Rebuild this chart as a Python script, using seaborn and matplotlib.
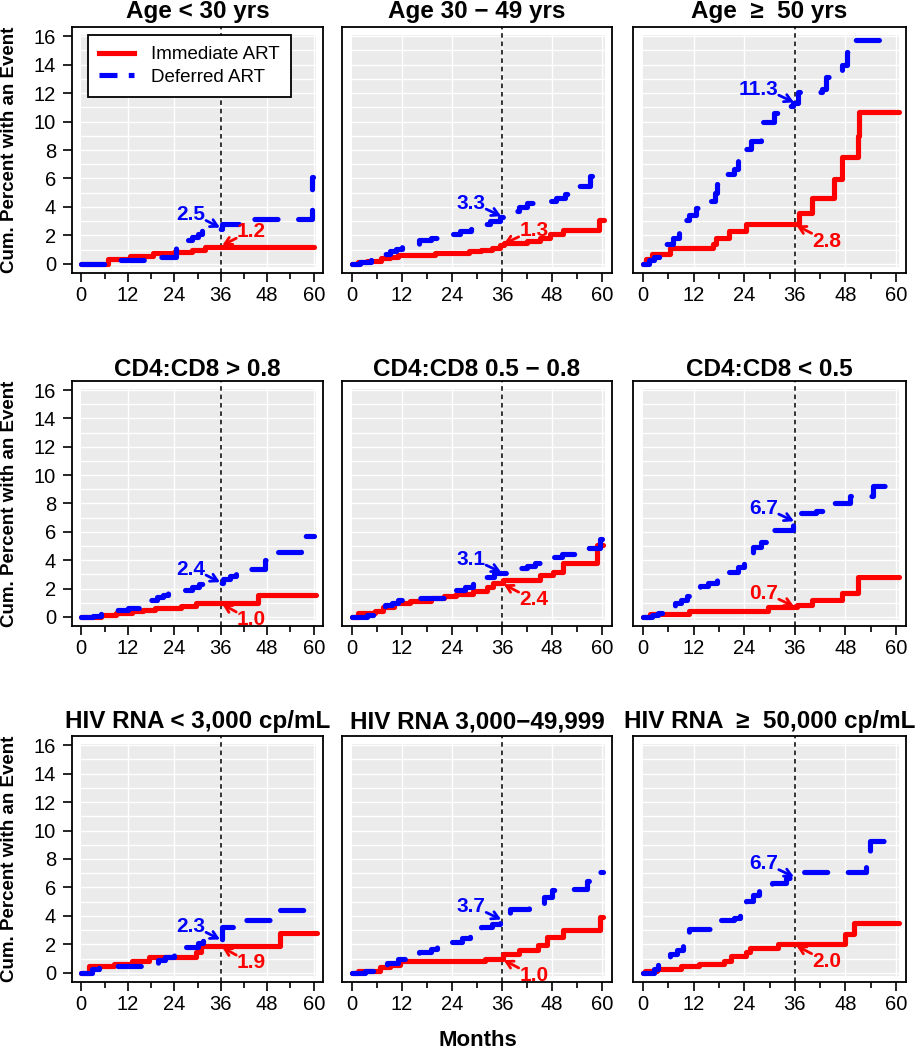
import matplotlib
matplotlib.use("Agg")
import matplotlib.pyplot as plt
from matplotlib.lines import Line2D
from matplotlib.patches import Rectangle
import pandas as pd
import seaborn as sns

# panel titles (row by row)
titles = ["Age < 30 yrs", "Age 30 \u2212 49 yrs", "Age  \u2265  50 yrs",
          "CD4:CD8 > 0.8", "CD4:CD8 0.5 \u2212 0.8", "CD4:CD8 < 0.5",
          "HIV RNA < 3,000 cp/mL", "HIV RNA 3,000\u221249,999", "HIV RNA  \u2265  50,000 cp/mL"]

# step curves: month of each step, cum. percent after it
p1_imm_t = [0, 6.8, 12.5, 18.5, 24, 28.5, 32]
p1_imm_v = [0, 0.35, 0.55, 0.75, 0.85, 1.0, 1.2]
p1_def_t = [0, 6, 20, 24.4, 27, 28.5, 30, 31.2, 36.4, 41, 59.5]
p1_def_v = [0, 0.25, 0.45, 1.2, 1.7, 1.9, 2.1, 2.45, 2.8, 3.15, 6.1]

p2_imm_t = [0, 1.5, 3.5, 7, 9, 11, 20, 28, 31, 33.5, 35.5, 36.5, 42, 45, 47.5, 50.7, 59.2]
p2_imm_v = [0, 0.1, 0.2, 0.4, 0.5, 0.6, 0.75, 0.9, 1.0, 1.15, 1.3, 1.5, 1.6, 1.8, 2.1, 2.4, 3.1]
p2_def_t = [0, 2, 4.5, 7.5, 9, 10.5, 12, 16, 19, 24, 26, 28.5, 31, 33, 35.5, 38, 40, 42, 47, 49, 51, 54, 57]
p2_def_v = [0, 0.1, 0.3, 0.7, 0.9, 1.05, 1.3, 1.65, 1.8, 2.1, 2.3, 2.45, 2.8, 3.0, 3.3, 3.7, 4.0, 4.3,
            4.45, 4.6, 4.9, 5.5, 6.2]

p3_imm_t = [0, 0.8, 2, 6.5, 16.5, 17.3, 20.5, 24.5, 37, 40, 45.3, 47.3, 50.9, 51.3]
p3_imm_v = [0, 0.35, 0.7, 1.1, 1.4, 1.8, 2.3, 2.8, 3.6, 4.6, 5.95, 7.5, 9.0, 10.65]
p3_def_t = [0, 1.5, 2.5, 4, 5.5, 7, 8.5, 9.7, 11, 12.5, 16, 17, 17.5, 20, 21.5, 22.5, 24.5, 25.5, 28, 31,
            34.5, 35.5, 36.8, 42.5, 43.3, 47.3, 48.3, 48.9]
p3_def_v = [0, 0.3, 0.5, 0.7, 1.4, 1.8, 2.2, 3.1, 3.4, 3.9, 4.4, 5.0, 5.6, 6.3, 6.7, 7.2, 8.1, 8.6, 10.0,
            10.6, 11.1, 11.3, 12.1, 12.3, 13.1, 14.0, 14.9, 15.75]

p4_imm_t = [0, 5, 9, 13, 16, 19, 25.7, 29.6, 45.6]
p4_imm_v = [0, 0.15, 0.3, 0.4, 0.5, 0.6, 0.8, 1.0, 1.55]
p4_def_t = [0, 3, 5, 9, 12, 15, 18, 19.5, 21, 22.5, 26, 28.5, 30.5, 33, 36.5, 38.5, 40, 43, 47.5, 49.5, 56.8]
p4_def_v = [0, 0.1, 0.25, 0.5, 0.6, 0.73, 1.2, 1.4, 1.55, 1.7, 1.9, 2.1, 2.35, 2.4, 2.7, 2.9, 3.05, 3.4,
            4.0, 4.55, 5.7]

p5_imm_t = [0, 1.5, 5.5, 7.5, 10, 14, 19, 22, 25, 29, 32.3, 33.8, 36.3, 45, 48.3, 50.7, 58.8]
p5_imm_v = [0, 0.25, 0.45, 0.7, 0.95, 1.1, 1.35, 1.5, 1.65, 1.8, 2.1, 2.4, 2.6, 2.95, 3.2, 3.8, 5.05]
p5_def_t = [0, 3.5, 6.5, 8, 9.5, 11, 16, 22.5, 25, 27, 29, 32, 34, 40, 42, 44, 48, 50.5, 55, 59.5]
p5_def_v = [0, 0.15, 0.6, 0.85, 1.0, 1.2, 1.3, 1.7, 1.9, 2.1, 2.4, 2.85, 3.1, 3.45, 3.6, 3.8, 4.25, 4.45,
            4.85, 5.5]

p6_imm_t = [0, 1.7, 10.9, 29.7, 36.5, 40, 47.3, 50.9]
p6_imm_v = [0, 0.2, 0.45, 0.7, 0.85, 1.2, 1.7, 2.85]
p6_def_t = [0, 2, 3.5, 5, 7.5, 9, 10.5, 13.5, 15.5, 17.5, 20.5, 22.5, 24, 26, 28, 30.5, 35.5, 36.8, 41, 45,
            49, 54.5]
p6_def_v = [0, 0.15, 0.3, 0.45, 1.0, 1.2, 1.5, 2.2, 2.4, 2.65, 3.2, 3.55, 3.9, 4.9, 5.3, 6.1, 6.65, 7.3,
            7.5, 8.0, 8.5, 9.2]

p7_imm_t = [0, 1.9, 8.4, 13.2, 17.5, 29.6, 30.8, 51.2]
p7_imm_v = [0, 0.45, 0.65, 0.85, 1.1, 1.5, 1.9, 2.8]
p7_def_t = [0, 2.8, 4.5, 19.7, 21.5, 24, 27, 30, 31.5, 36.3, 41.5, 50.5]
p7_def_v = [0, 0.25, 0.45, 0.9, 1.1, 1.4, 1.85, 2.1, 2.3, 3.2, 3.7, 4.4]

p8_imm_t = [0, 1.5, 6.7, 9, 11.5, 32, 36.2, 40, 44.7, 46.7, 50.7, 59.5]
p8_imm_v = [0, 0.15, 0.4, 0.55, 0.8, 1.0, 1.35, 1.6, 1.95, 2.55, 3.0, 3.9]
p8_def_t = [0, 3, 6.5, 8.5, 11, 13, 16, 19, 20.3, 24, 26.5, 28.3, 31, 33.5, 35.5, 38, 42.5, 46, 48, 52.3,
            56.5, 59]
p8_def_v = [0, 0.1, 0.4, 0.7, 0.95, 1.15, 1.5, 1.7, 1.85, 2.2, 2.45, 2.8, 3.25, 3.45, 3.7, 4.5, 4.6, 5.3,
            5.85, 5.9, 6.45, 7.1]

p9_imm_t = [0, 0.5, 3.3, 8.9, 13.3, 19.3, 20.9, 24.5, 25.3, 32, 48, 50.1]
p9_imm_v = [0, 0.1, 0.25, 0.45, 0.65, 0.8, 1.2, 1.45, 1.75, 2.0, 2.7, 3.5]
p9_def_t = [0, 2.5, 3.5, 6.5, 8, 9.5, 11, 16.5, 18.5, 21.5, 23, 24.5, 26, 27.5, 30.5, 34, 36.5, 53, 53.8]
p9_def_v = [0, 0.25, 0.6, 1.3, 1.6, 2.0, 3.05, 3.2, 3.7, 3.85, 4.1, 5.05, 5.5, 5.8, 6.3, 6.7, 7.1, 8.5, 9.25]

imm_t = [p1_imm_t, p2_imm_t, p3_imm_t, p4_imm_t, p5_imm_t, p6_imm_t, p7_imm_t, p8_imm_t, p9_imm_t]
imm_v = [p1_imm_v, p2_imm_v, p3_imm_v, p4_imm_v, p5_imm_v, p6_imm_v, p7_imm_v, p8_imm_v, p9_imm_v]
def_t = [p1_def_t, p2_def_t, p3_def_t, p4_def_t, p5_def_t, p6_def_t, p7_def_t, p8_def_t, p9_def_t]
def_v = [p1_def_v, p2_def_v, p3_def_v, p4_def_v, p5_def_v, p6_def_v, p7_def_v, p8_def_v, p9_def_v]

# last follow-up month of each curve
imm_end = [60, 60.5, 60.8, 60.5, 60.2, 60.8, 60.8, 60.3, 60.8]
def_end = [59.8, 57.5, 60.8, 60.2, 60.1, 57.3, 58.2, 60.3, 57.7]

# 36-month estimates shown with arrows
imm_at36 = [1.2, 1.3, 2.8, 1.0, 2.4, 0.7, 1.9, 1.0, 2.0]
def_at36 = [2.5, 3.3, 11.3, 2.4, 3.1, 6.7, 2.3, 3.7, 6.7]
imm_side = ["ur", "ur", "lr", "lr", "lr", "ul", "lr", "lr", "lr"]

plt.rcParams["font.family"] = ["Liberation Sans", "DejaVu Sans"]

W, H = 918, 1050
fig = plt.figure(figsize=(W / 100, H / 100), dpi=100)

col_px = [(72, 323), (342, 612), (633, 906)]
row_px = [(27, 273), (381, 626), (736, 982)]
title_pad = [6.5, 2, 5.5]

RED, BLUE = "#FF0000", "#0000FF"
LW = 3.7
DASH = (0, (4.5, 4))


def step_line(ax, t, v, end, color, ls):
    df = pd.DataFrame({"month": list(t) + [end], "pct": list(v) + [v[-1]]})
    sns.lineplot(data=df, x="month", y="pct", ax=ax, color=color, lw=LW, linestyle=ls,
                 drawstyle="steps-post", estimator=None, sort=False, zorder=3)
    ln = ax.lines[-1]
    ln.set_dash_capstyle("round")
    ln.set_solid_capstyle("round")
    ln.set_dash_joinstyle("round")
    ln.set_solid_joinstyle("round")


def label36(ax, val, side, color):
    if side == "ul":
        txt, tail, head, ha = (32.0, val + 0.95), (32.2, val + 0.55), (35.8, val + 0.05), "right"
    elif side == "ur":
        txt, tail, head, ha = (40.2, val + 1.05), (40.0, val + 0.6), (36.4, val + 0.1), "left"
    else:
        txt, tail, head, ha = (40.2, val - 1.2), (40.0, val - 0.65), (36.4, val - 0.1), "left"
    ax.annotate("", xy=head, xytext=tail,
                arrowprops=dict(arrowstyle="->,head_length=0.5,head_width=0.28", color=color,
                                lw=2.0, shrinkA=0, shrinkB=0), zorder=4)
    ax.text(txt[0], txt[1], f"{val:.1f}", color=color, fontsize=15, fontweight="bold",
            ha=ha, va="center", clip_on=True, zorder=4)


for i in range(9):
    r, c = divmod(i, 3)
    x0, x1 = col_px[c]
    y0, y1 = row_px[r]
    ax = fig.add_axes([x0 / W, 1 - y1 / H, (x1 - x0) / W, (y1 - y0) / H])
    ax.set_xlim(-2.4, 62.4)
    ax.set_ylim(-0.64, 16.64)

    ax.add_patch(Rectangle((0, -0.25), 60.7, 16.35, facecolor="#EBEBEB", edgecolor="none", zorder=0))
    for y in range(17):
        ax.plot([0, 60.7], [y, y], color="white", lw=1.0, zorder=1)
    for x in range(12, 61, 12):
        ax.plot([x, x], [-0.25, 16.1], color="white", lw=1.0, zorder=1)
    ax.axvline(36, color="black", lw=1.1, linestyle=(0, (3, 2.5)), zorder=2)

    step_line(ax, imm_t[i], imm_v[i], imm_end[i], RED, "-")
    step_line(ax, def_t[i], def_v[i], def_end[i], BLUE, DASH)

    label36(ax, def_at36[i], "ul", BLUE)
    label36(ax, imm_at36[i], imm_side[i], RED)

    ax.set_xlabel("")
    ax.set_ylabel("")
    ax.set_xticks(range(0, 61, 12))
    ax.set_xticks(range(6, 61, 12), minor=True)
    if c == 0:
        ax.set_yticks(range(0, 17, 2))
    else:
        ax.set_yticks([])
    ax.tick_params(which="major", direction="out", length=6.5, width=1.2, labelsize=14.5, pad=3,
                   color="black")
    ax.tick_params(axis="y", pad=5)
    ax.tick_params(which="minor", direction="out", length=4.5, width=1.2)
    for s in ax.spines.values():
        s.set_color("black")
        s.set_linewidth(1.3)
    ax.set_title(titles[i], fontsize=17.5, fontweight="bold", pad=title_pad[r])

    if i == 0:
        handles = [Line2D([], [], color=RED, lw=LW),
                   Line2D([], [], color=BLUE, lw=LW, linestyle=(0, (3.5, 2.2)))]
        leg = ax.legend(handles, ["Immediate ART", "Deferred ART"], loc="upper left",
                        bbox_to_anchor=(0.062, 0.968), fontsize=13.5, frameon=True, fancybox=False,
                        edgecolor="black", facecolor="white", framealpha=1, handlelength=1.9,
                        handletextpad=0.9, borderpad=0.6, labelspacing=0.3, borderaxespad=0)
        leg.get_frame().set_linewidth(1.3)
        leg.set_zorder(5)

for r in range(3):
    yc = 1 - (row_px[r][0] + row_px[r][1]) / 2 / H
    fig.text(10 / W, yc, "Cum. Percent with an Event", rotation=90, fontsize=13.5,
             fontweight="bold", ha="center", va="center")

fig.text(478 / W, 1 - 1040 / H, "Months", fontsize=16, fontweight="bold", ha="center", va="center")

fig.savefig("out.png", dpi=100)
